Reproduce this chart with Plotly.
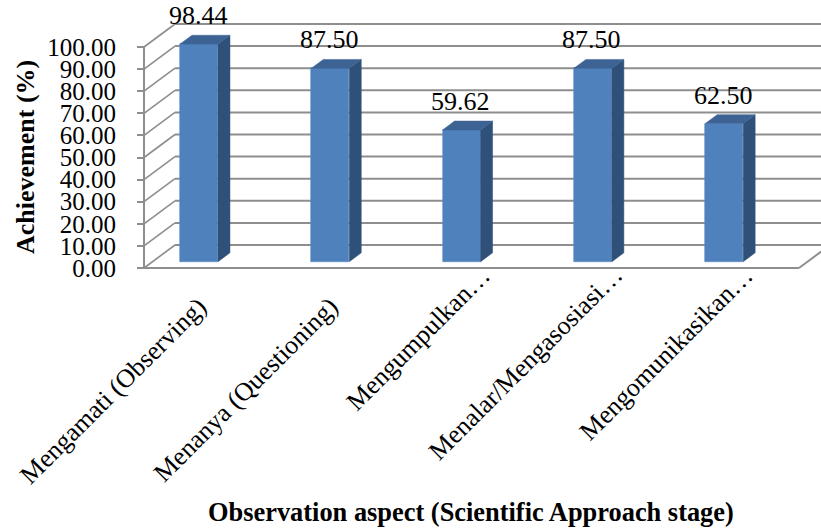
import plotly.graph_objects as go

# ---- data -------------------------------------------------------------
categories = [
    "Mengamati (Observing)",
    "Menanya (Questioning)",
    "Mengumpulkan…",
    "Menalar/Mengasosiasi…",
    "Mengomunikasikan…",
]
values = [98.44, 87.50, 59.62, 87.50, 62.50]
tick_values = [0, 10, 20, 30, 40, 50, 60, 70, 80, 90, 100]
tick_labels = [f"{t:.2f}" for t in tick_values]

y_title = "Achievement (%)"
x_title = "Observation aspect (Scientific Approach stage)"

# ---- geometry of the pseudo-3D frame --------------------------------
W, H = 821, 528
PX_PER_CAT = 131.3          # pixels between neighbouring categories
PX_PER_VAL = 2.21           # pixels per percentage point
ORIGIN_X = 190.5            # pixel x of the first category on the front plane
ORIGIN_Y = 268              # pixel y of value 0 on the front plane

x_range = [-ORIGIN_X / PX_PER_CAT, (W - ORIGIN_X) / PX_PER_CAT]
y_range = [(ORIGIN_Y - H) / PX_PER_VAL, ORIGIN_Y / PX_PER_VAL]

depth_x = 31 / PX_PER_CAT   # oblique depth vector (category units)
depth_y = 23 / PX_PER_VAL   # oblique depth vector (value units)
floor_left = (144 - ORIGIN_X) / PX_PER_CAT
floor_right = (799 - ORIGIN_X) / PX_PER_CAT
wall_end = x_range[1] + 0.5

bar_front = 0.275           # bar front face, as fraction of floor depth
bar_back = 0.66             # bar back face, as fraction of floor depth
bar_width = 38 / PX_PER_CAT

# pixel offsets of each rotated category label from its slot
label_xshift = [25, 25, 46, 46, 46]
label_yshift = [-21, -21, 10, 10, 10]

FRONT = "#4F81BD"
TOP = "#3D6395"
SIDE = "#2F5079"
GRID = "#8E8E8E"
FONT = "Liberation Serif, Times New Roman, serif"

fig = go.Figure()

# ---- walls and floor (drawn underneath the bars) ---------------------
shapes = []
line = dict(color=GRID, width=2)
for t in tick_values:
    # back wall gridline
    shapes.append(dict(type="line", xref="x", yref="y", layer="below",
                       x0=floor_left + depth_x, y0=t + depth_y,
                       x1=wall_end, y1=t + depth_y, line=line))
    # side wall gridline
    shapes.append(dict(type="line", xref="x", yref="y", layer="below",
                       x0=floor_left, y0=t,
                       x1=floor_left + depth_x, y1=t + depth_y,
                       line=dict(color=GRID, width=1.6)))
# front vertical edge (value axis line)
shapes.append(dict(type="line", xref="x", yref="y", layer="below",
                   x0=floor_left, y0=tick_values[0],
                   x1=floor_left, y1=tick_values[-1], line=line))
# floor front edge and right edge
shapes.append(dict(type="line", xref="x", yref="y", layer="below",
                   x0=floor_left, y0=0, x1=floor_right, y1=0, line=line))
shapes.append(dict(type="line", xref="x", yref="y", layer="below",
                   x0=floor_right, y0=0,
                   x1=floor_right + depth_x, y1=depth_y, line=line))

# ---- bars -------------------------------------------------------------
idx = list(range(len(categories)))
fx = [i + bar_front * depth_x for i in idx]       # front face centres
base = bar_front * depth_y
ddx = (bar_back - bar_front) * depth_x
ddy = (bar_back - bar_front) * depth_y

fig.add_trace(go.Bar(
    x=fx, y=values, base=base, width=bar_width,
    marker=dict(color=FRONT, line=dict(color="#5A8BC6", width=0.6)),
    hoverinfo="skip", showlegend=False,
))

side_x, side_y, top_x, top_y = [], [], [], []
for c, v in zip(fx, values):
    xl, xr = c - bar_width / 2, c + bar_width / 2
    vt = base + v
    side_x += [xr, xr, xr + ddx, xr + ddx, xr, None]
    side_y += [base, vt, vt + ddy, base + ddy, base, None]
    top_x += [xl, xr, xr + ddx, xl + ddx, xl, None]
    top_y += [vt, vt, vt + ddy, vt + ddy, vt, None]

fig.add_trace(go.Scatter(x=side_x, y=side_y, mode="lines", fill="toself",
                         fillcolor=SIDE, line=dict(color=SIDE, width=0.5),
                         hoverinfo="skip", showlegend=False))
fig.add_trace(go.Scatter(x=top_x, y=top_y, mode="lines", fill="toself",
                         fillcolor=TOP, line=dict(color=TOP, width=0.5),
                         hoverinfo="skip", showlegend=False))

# ---- annotations --------------------------------------------------------
annotations = []
for c, v in zip(fx, values):
    annotations.append(dict(
        x=c, y=base + v + ddy, xref="x", yref="y",
        text=f"{v:.2f}", showarrow=False,
        xanchor="center", yanchor="bottom", yshift=3, xshift=-1,
        font=dict(family=FONT, size=26, color="black"),
    ))
for i, name, sx, sy in zip(idx, categories, label_xshift, label_yshift):
    annotations.append(dict(
        x=i, y=0, xref="x", yref="y",
        text=name, showarrow=False, textangle=-45,
        xanchor="right", yanchor="top", xshift=sx, yshift=sy,
        font=dict(family=FONT, size=26, color="black"),
    ))
annotations.append(dict(
    x=25 / W, y=1 - 157 / H, xref="paper", yref="paper",
    text=f"<b>{y_title}</b>", showarrow=False, textangle=-90,
    xanchor="center", yanchor="middle",
    font=dict(family=FONT, size=26, color="black"),
))
annotations.append(dict(
    x=471 / W, y=1 - 512 / H, xref="paper", yref="paper",
    text=f"<b>{x_title}</b>", showarrow=False,
    xanchor="center", yanchor="middle",
    font=dict(family=FONT, size=26.4, color="black"),
))

fig.update_layout(
    width=W, height=H,
    margin=dict(l=0, r=0, t=0, b=0),
    paper_bgcolor="white", plot_bgcolor="white",
    shapes=shapes, annotations=annotations,
    bargap=0,
    xaxis=dict(range=x_range, visible=False, fixedrange=True),
    yaxis=dict(
        range=y_range, anchor="free", position=144 / W,
        tickmode="array", tickvals=tick_values, ticktext=tick_labels,
        ticks="outside", ticklen=7, tickwidth=1.5, tickcolor=GRID,
        ticklabelstandoff=16,
        showgrid=False, zeroline=False, showline=False, automargin=False,
        tickfont=dict(family=FONT, size=25, color="black"),
        fixedrange=True,
    ),
)

fig.write_html("out.html")
